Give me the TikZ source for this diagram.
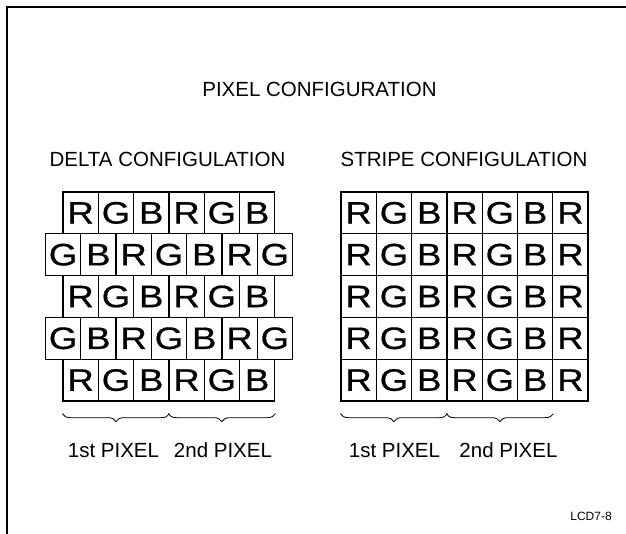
\documentclass[tikz,border=0pt]{standalone}
\usepackage{fontspec}
\setmainfont{Liberation Sans}
\newfontfamily\zellfont[FakeStretch=1.18,FakeBold=0.6]{Liberation Sans}
\usetikzlibrary{decorations.pathreplacing}
\begin{document}
\begin{tikzpicture}[x=1pt,y=-1pt,
                        cell/.style={draw,line width=1.3pt,minimum width=35.3pt,minimum height=41.8pt,
                                     inner sep=0pt,font=\zellfont\fontsize{31}{31}\selectfont},
                        head/.style={anchor=base,font=\fontsize{20.5}{24}\selectfont},
                        klammer/.style={decorate,line width=0.8pt,decoration={brace,mirror,amplitude=8pt}},
                        ]
                        \useasboundingbox (0,0) rectangle (626,534);
                        %Rahmen
                        \draw [line width=1.5pt] (7,534) -- (7,7) -- (626,7);
                        %Ueberschriften
                        \node[head] (titel) at (319.5,97) {PIXEL CONFIGURATION};
                        \node[head] (delta) at (167.5,167) {DELTA CONFIGULATION};
                        \node[head] (stripe) at (464,167) {STRIPE CONFIGULATION};
                        %Delta-Anordnung
                        \foreach \z in {1,...,5} {
                          \ifodd\z\relax
                            \foreach \b [count=\s] in {R,G,B,R,G,B} {
                              \node[cell] (d-\z-\s) at ({45.35+\s*35.3},{171.1+\z*41.8}) {\b};
                            }
                          \else
                            \foreach \b [count=\s] in {G,B,R,G,B,R,G} {
                              \node[cell] (d-\z-\s) at ({27.75+\s*35.3},{171.1+\z*41.8}) {\b};
                            }
                          \fi
                        }
                        %Streifen-Anordnung
                        \foreach \z in {1,...,5}
                          \foreach \b [count=\s] in {R,G,B,R,G,B,R} {
                            \node[cell] (s-\z-\s) at ({323.35+\s*35.3},{171.1+\z*41.8}) {\b};
                          }
                        %Klammern
                        \draw [klammer] ([yshift=-12pt]d-5-1.south west) -- ([yshift=-12pt]d-5-3.south east);
                        \draw [klammer] ([yshift=-12pt]d-5-4.south west) -- ([yshift=-12pt]d-5-6.south east);
                        \draw [klammer] ([yshift=-12pt]s-5-1.south west) -- ([yshift=-12pt]s-5-3.south east);
                        \draw [klammer] ([yshift=-12pt]s-5-4.south west) -- ([yshift=-12pt]s-5-6.south east);
                        %Beschriftung
                        \node[head] (d-p1) at (113.5,457.5) {1st PIXEL};
                        \node[head] (d-p2) at (223,457.5) {2nd PIXEL};
                        \node[head] (s-p1) at (394.5,457.5) {1st PIXEL};
                        \node[head] (s-p2) at (508.5,457.5) {2nd PIXEL};
                        \node[anchor=base,font=\fontsize{12}{14}\selectfont] (nr) at (591,520) {LCD7-8};
                \end{tikzpicture}
\end{document}
